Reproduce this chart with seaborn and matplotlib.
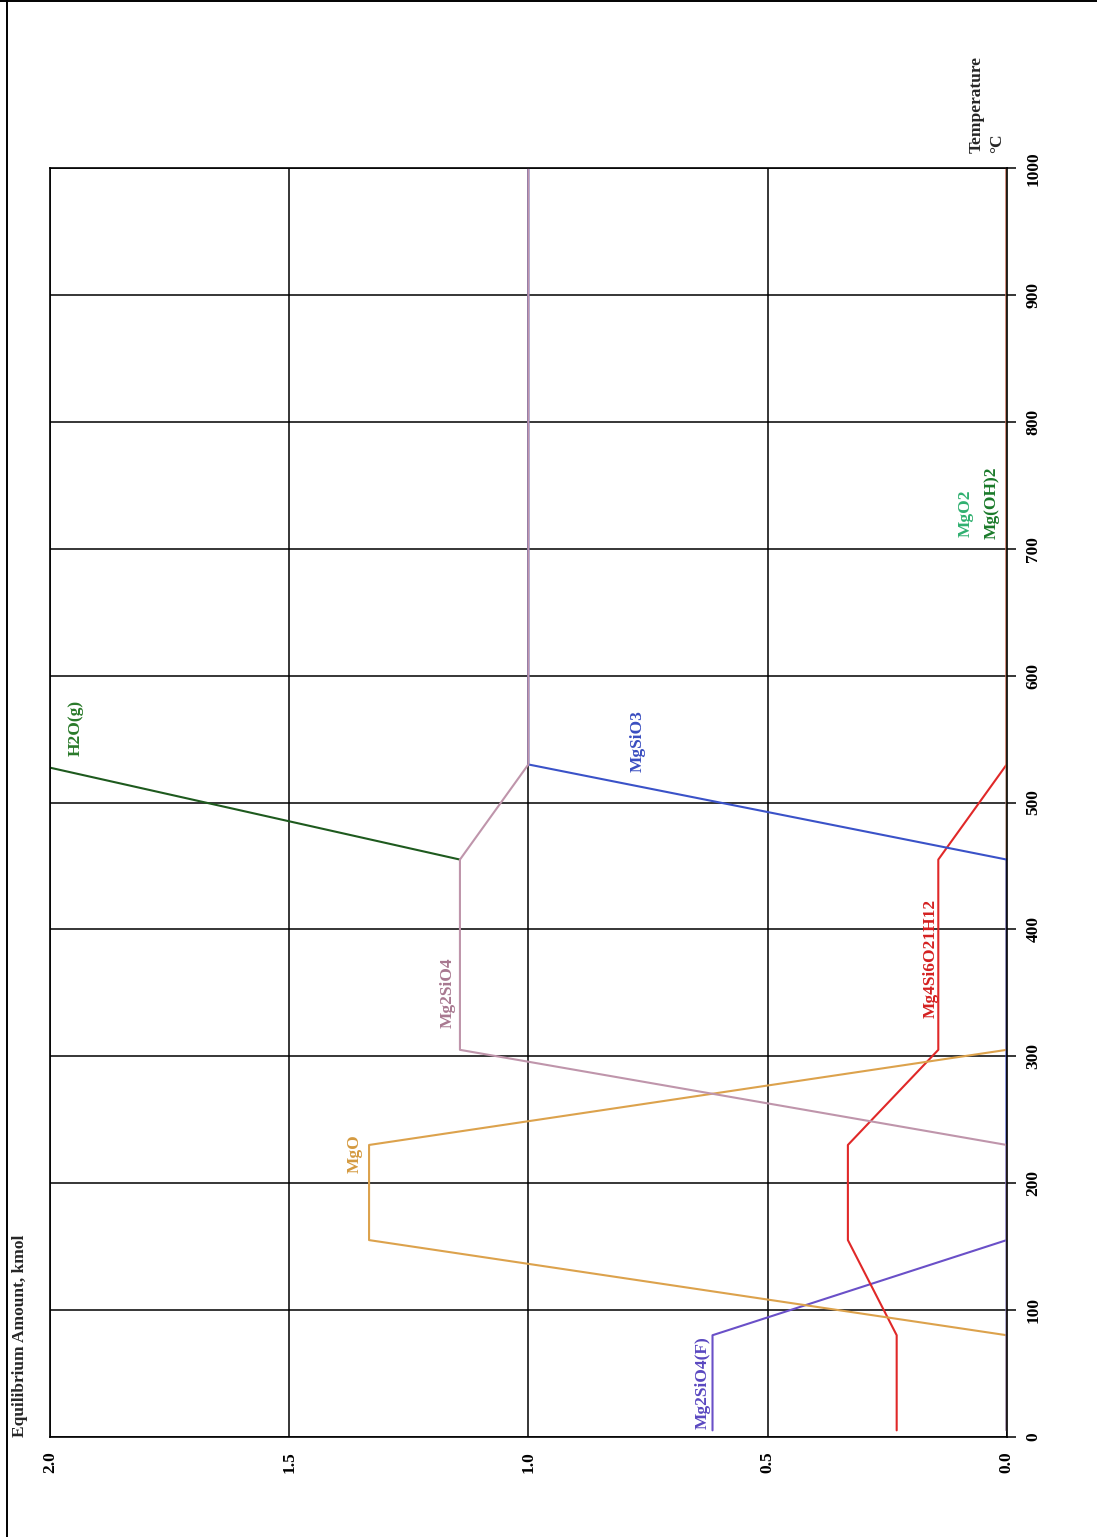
import numpy as np
import pandas as pd
import matplotlib
matplotlib.use("Agg")
import matplotlib.pyplot as plt
from matplotlib.lines import Line2D
import seaborn as sns

# Equilibrium composition vs temperature (kmol)
temperature = [5, 80, 155, 230, 305, 380, 455, 530, 605, 680, 755, 830, 905, 980, 1000]
mg2sio4_f   = [0.615, 0.615, 0, 0, 0, 0, 0, 0, 0, 0, 0, 0, 0, 0, 0]
mg4si6o21h12 = [0.230, 0.230, 0.332, 0.332, 0.143, 0.143, 0.143, 0, 0, 0, 0, 0, 0, 0, 0]
mgo         = [0, 0, 1.333, 1.333, 0, 0, 0, 0, 0, 0, 0, 0, 0, 0, 0]
mgsio3      = [0, 0, 0, 0, 0, 0, 0, 1.0, 1.0, 1.0, 1.0, 1.0, 1.0, 1.0, 1.0]
mg2sio4     = [0, 0, 0, 0, 1.143, 1.143, 1.143, 1.0, 1.0, 1.0, 1.0, 1.0, 1.0, 1.0, 1.0]
h2o_g       = [np.nan, np.nan, np.nan, np.nan, np.nan, np.nan, 1.143, 2.03, 2.03, 2.03, 2.03, 2.03, 2.03, 2.03, 2.03]
mgo2        = [0] * 15
mg_oh2      = [0] * 15

amount_ticks = [0.0, 0.5, 1.0, 1.5, 2.0]
temp_ticks = list(range(0, 1001, 100))

species = ["MgO2", "Mg(OH)2", "Mg2SiO4(F)", "Mg4Si6O21H12", "MgO",
           "MgSiO3", "H2O(g)", "Mg2SiO4"]
series = {
    "MgO2": mgo2, "Mg(OH)2": mg_oh2, "Mg2SiO4(F)": mg2sio4_f,
    "Mg4Si6O21H12": mg4si6o21h12, "MgO": mgo, "MgSiO3": mgsio3,
    "H2O(g)": h2o_g, "Mg2SiO4": mg2sio4,
}
line_colors = {
    "MgO2": "#30b070", "Mg(OH)2": "#1a7a2a", "Mg2SiO4(F)": "#6a50c8",
    "Mg4Si6O21H12": "#e02828", "MgO": "#dca24c", "MgSiO3": "#3a52c8",
    "H2O(g)": "#1e5a1e", "Mg2SiO4": "#bf95ab",
}
label_colors = {
    "MgO2": "#30b070", "Mg(OH)2": "#1a7a2a", "Mg2SiO4(F)": "#5a48c0",
    "Mg4Si6O21H12": "#d42020", "MgO": "#d49a40", "MgSiO3": "#3a4ec0",
    "H2O(g)": "#2a7a2a", "Mg2SiO4": "#a87890",
}
# label anchor: (amount, temperature) where the rotated label starts
label_pos = {
    "Mg2SiO4(F)": (0.635, 6),
    "MgO": (1.362, 208),
    "Mg2SiO4": (1.168, 322),
    "H2O(g)": (1.947, 537),
    "MgSiO3": (0.772, 524),
    "Mg4Si6O21H12": (0.159, 330),
    "MgO2": (0.085, 709),
    "Mg(OH)2": (0.032, 708),
}

frames = []
for name in species:
    frames.append(pd.DataFrame({"T": temperature, "amount": series[name], "species": name}))
df = pd.concat(frames, ignore_index=True).dropna()

sns.set_theme(style="white")
plt.rcParams["font.family"] = ["Liberation Serif", "DejaVu Serif"]
plt.rcParams["font.weight"] = "bold"

W, H = 1097, 1537
fig = plt.figure(figsize=(W / 100, H / 100), dpi=100)
fig.patch.set_facecolor("white")
ax = fig.add_axes([50 / W, 1 - 1436.7 / H, 956.7 / W, (1436.7 - 168.3) / H])

sns.lineplot(data=df, x="amount", y="T", hue="species", hue_order=species,
             palette=line_colors, sort=False, estimator=None, orient="y",
             legend=False, linewidth=1.5, ax=ax)

ax.set_xlim(2.0, 0.0)
ax.set_ylim(0, 1000)
ax.set_xlabel("")
ax.set_ylabel("")

ax.set_xticks(amount_ticks)
ax.set_xticklabels([f"{v:.1f}" for v in amount_ticks], rotation=90,
                   fontsize=12.5, fontweight="bold")
ax.yaxis.tick_right()
ax.set_yticks(temp_ticks)
ax.set_yticklabels([str(v) for v in temp_ticks], rotation=90,
                   fontsize=12.5, fontweight="bold", va="center")
ax.tick_params(axis="x", direction="out", length=6.5, width=1.1, pad=4, colors="black")
ax.tick_params(axis="y", direction="out", length=6.5, width=1.1, pad=7, colors="black")
ax.grid(True, color="black", linewidth=1.1)
ax.set_axisbelow(True)
for sp in ax.spines.values():
    sp.set_visible(True)
    sp.set_color("black")
    sp.set_linewidth(1.2)
    sp.set_zorder(5)

for name, (a, t) in label_pos.items():
    ax.text(a, t, name, rotation=90, ha="center", va="bottom",
            color=label_colors[name], fontsize=12.5, fontweight="bold")

# axis titles
fig.text(20 / W, 1 - 1436.7 / H, "Equilibrium Amount, kmol", rotation=90,
         ha="center", va="bottom", fontsize=12.5, fontweight="bold")
fig.text(977 / W, 1 - 153 / H, "Temperature", rotation=90,
         ha="center", va="bottom", fontsize=12.5, fontweight="bold")
fig.text(997 / W, 1 - 153 / H, "°C", rotation=90,
         ha="center", va="bottom", fontsize=12.5, fontweight="bold")

# outer frame
fig.add_artist(Line2D([6.7 / W, 6.7 / W], [0, 1], transform=fig.transFigure,
                      color="black", linewidth=1.4))
fig.add_artist(Line2D([0, 1], [1 - 1 / H, 1 - 1 / H], transform=fig.transFigure,
                      color="black", linewidth=1.4))

fig.savefig("out.png", dpi=100, facecolor="white")
